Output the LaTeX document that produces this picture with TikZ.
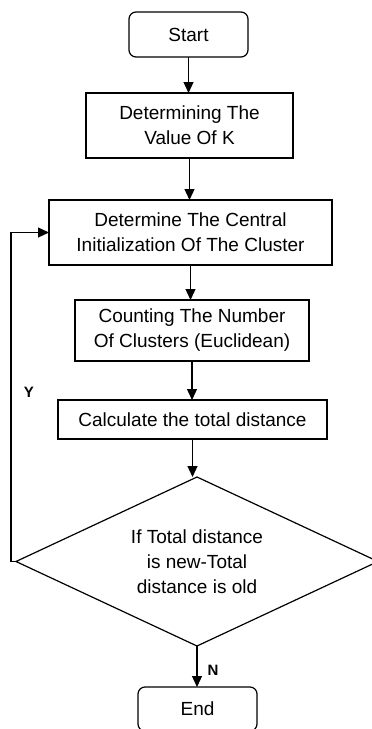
\documentclass[tikz,border=0pt]{standalone}
\usepackage{fontspec}
\setmainfont{Liberation Sans}
\usetikzlibrary{positioning, arrows.meta, shapes.geometric}

\begin{document}
\begin{tikzpicture}[
    x=0.5pt, y=-0.5pt,
    >={Triangle[length=5.5pt,width=5pt]},
    every node/.style={font=\fontsize{9.5}{12.5}\selectfont, align=center},
    terminal/.style={draw, semithick, rounded corners=3.5pt, minimum width=59.5pt, minimum height=22.5pt, inner sep=0pt, outer sep=0pt},
    process/.style={draw, semithick, minimum height=32.5pt, inner sep=0pt, outer sep=0pt},
    decision/.style={draw, semithick, diamond, minimum width=181pt, minimum height=84.5pt, aspect=2.14, inner sep=0pt, outer sep=0pt},
    flow/.style={->, semithick},
    lbl/.style={font=\fontsize{7.5}{8}\selectfont\bfseries, inner sep=1pt}
]
    \useasboundingbox (0,0) rectangle (371,729);

    \node[terminal] (start) at (188.5,34.5) {Start};
    \node[process, minimum width=103.5pt, below=18pt of start, xshift=0.5pt] (valk) {Determining The\\Value Of K};
    \node[process, minimum width=141.5pt, below=21pt of valk, xshift=0.5pt] (central) {Determine The Central\\Initialization Of The Cluster};
    \node[process, minimum width=117pt, minimum height=30.5pt, below=17.5pt of central, xshift=0.75pt] (count) {Counting The Number\\Of Clusters (Euclidean)};
    \node[process, minimum width=134.5pt, minimum height=19.5pt, below=19.5pt of count, xshift=0.25pt] (calc) {Calculate the total distance};
    \node[decision, below=19pt of calc, xshift=2.25pt] (check) {If Total distance\\is new-Total\\distance is old};
    \node[terminal, minimum height=22pt, below=20.5pt of check, xshift=0.25pt] (end) {End};

    % Main flow
    \draw[flow] (start.south) -- (start.south |- valk.north);
    \draw[flow] (valk.south) -- (valk.south |- central.north);
    \draw[flow] (central.south) -- (central.south |- count.north);
    \draw[flow] (count.south) -- (count.south |- calc.north);
    \draw[flow] (calc.south) -- (calc.south |- check.north);
    \draw[flow] (check.south) -- node[lbl, right=4pt, pos=0.6]{N} (check.south |- end.north);

    % Loop back when the distance changed
    \draw[flow] (check.west) -- ++(-2.5pt,0) |- (central.west);
    \node[lbl] (ylbl) at (29,392) {Y};
\end{tikzpicture}
\end{document}
